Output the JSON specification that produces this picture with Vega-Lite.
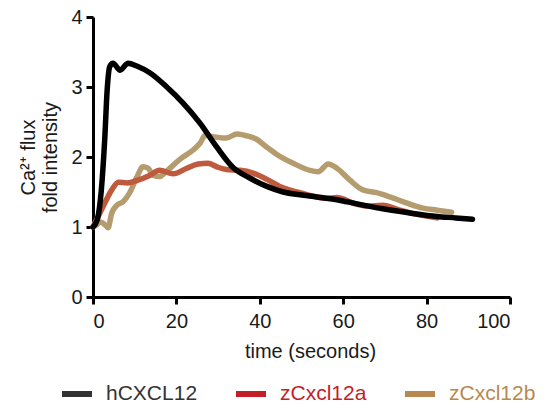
{
  "$schema": "https://vega.github.io/schema/vega-lite/v6.json",
  "width": 417,
  "height": 280,
  "autosize": "none",
  "padding": {"left": 93, "top": 17, "right": 37, "bottom": 114},
  "background": "white",
  "config": {
    "view": {"stroke": null},
    "font": "Liberation Sans",
    "axis": {
      "domainColor": "black",
      "domainWidth": 3,
      "tickColor": "black",
      "tickWidth": 3,
      "tickSize": 7,
      "labelFont": "Liberation Sans",
      "labelFontSize": 20,
      "labelColor": "#1a1a1a",
      "titleFont": "Liberation Sans",
      "titleFontSize": 20,
      "titleFontWeight": "normal",
      "titleColor": "#1a1a1a",
      "grid": false
    }
  },
  "data": {
    "values": [
      {"series": "zCxcl12b", "t": 0, "v": 1.0},
      {"series": "zCxcl12b", "t": 0.8, "v": 1.03},
      {"series": "zCxcl12b", "t": 1.7, "v": 1.07},
      {"series": "zCxcl12b", "t": 2.9, "v": 1.03},
      {"series": "zCxcl12b", "t": 3.6, "v": 0.99},
      {"series": "zCxcl12b", "t": 4.5, "v": 1.2},
      {"series": "zCxcl12b", "t": 5.7, "v": 1.31},
      {"series": "zCxcl12b", "t": 7.2, "v": 1.36},
      {"series": "zCxcl12b", "t": 8.9, "v": 1.5},
      {"series": "zCxcl12b", "t": 10.5, "v": 1.71},
      {"series": "zCxcl12b", "t": 12, "v": 1.86},
      {"series": "zCxcl12b", "t": 13.2, "v": 1.84},
      {"series": "zCxcl12b", "t": 14.4, "v": 1.74},
      {"series": "zCxcl12b", "t": 16, "v": 1.72},
      {"series": "zCxcl12b", "t": 17.7, "v": 1.8},
      {"series": "zCxcl12b", "t": 20.9, "v": 1.97},
      {"series": "zCxcl12b", "t": 24, "v": 2.1},
      {"series": "zCxcl12b", "t": 25.7, "v": 2.2},
      {"series": "zCxcl12b", "t": 26.9, "v": 2.31},
      {"series": "zCxcl12b", "t": 28.8, "v": 2.29},
      {"series": "zCxcl12b", "t": 32, "v": 2.27},
      {"series": "zCxcl12b", "t": 34.5, "v": 2.33},
      {"series": "zCxcl12b", "t": 37.6, "v": 2.29},
      {"series": "zCxcl12b", "t": 39, "v": 2.26},
      {"series": "zCxcl12b", "t": 41.7, "v": 2.14},
      {"series": "zCxcl12b", "t": 44, "v": 2.04},
      {"series": "zCxcl12b", "t": 48, "v": 1.91},
      {"series": "zCxcl12b", "t": 52, "v": 1.81},
      {"series": "zCxcl12b", "t": 54, "v": 1.79},
      {"series": "zCxcl12b", "t": 56.4, "v": 1.9},
      {"series": "zCxcl12b", "t": 58.5, "v": 1.84},
      {"series": "zCxcl12b", "t": 61.6, "v": 1.67},
      {"series": "zCxcl12b", "t": 64.7, "v": 1.53},
      {"series": "zCxcl12b", "t": 68, "v": 1.49},
      {"series": "zCxcl12b", "t": 71.2, "v": 1.43},
      {"series": "zCxcl12b", "t": 75.3, "v": 1.34},
      {"series": "zCxcl12b", "t": 79.1, "v": 1.27},
      {"series": "zCxcl12b", "t": 82.5, "v": 1.24},
      {"series": "zCxcl12b", "t": 86, "v": 1.21},
      {"series": "zCxcl12a", "t": 0, "v": 1.0},
      {"series": "zCxcl12a", "t": 2.4, "v": 1.29},
      {"series": "zCxcl12a", "t": 4.5, "v": 1.53},
      {"series": "zCxcl12a", "t": 6.1, "v": 1.64},
      {"series": "zCxcl12a", "t": 8.2, "v": 1.63},
      {"series": "zCxcl12a", "t": 10.8, "v": 1.67},
      {"series": "zCxcl12a", "t": 13.7, "v": 1.74},
      {"series": "zCxcl12a", "t": 16, "v": 1.81},
      {"series": "zCxcl12a", "t": 19.2, "v": 1.76},
      {"series": "zCxcl12a", "t": 22.5, "v": 1.84},
      {"series": "zCxcl12a", "t": 25.2, "v": 1.9},
      {"series": "zCxcl12a", "t": 27.6, "v": 1.91},
      {"series": "zCxcl12a", "t": 29.7, "v": 1.86},
      {"series": "zCxcl12a", "t": 32, "v": 1.82},
      {"series": "zCxcl12a", "t": 35.3, "v": 1.81},
      {"series": "zCxcl12a", "t": 38.4, "v": 1.77},
      {"series": "zCxcl12a", "t": 41.7, "v": 1.68},
      {"series": "zCxcl12a", "t": 44.8, "v": 1.58},
      {"series": "zCxcl12a", "t": 48.9, "v": 1.5},
      {"series": "zCxcl12a", "t": 52.8, "v": 1.44},
      {"series": "zCxcl12a", "t": 56, "v": 1.41},
      {"series": "zCxcl12a", "t": 58.5, "v": 1.42},
      {"series": "zCxcl12a", "t": 63, "v": 1.33},
      {"series": "zCxcl12a", "t": 66, "v": 1.3},
      {"series": "zCxcl12a", "t": 69.5, "v": 1.31},
      {"series": "zCxcl12a", "t": 73.6, "v": 1.24},
      {"series": "zCxcl12a", "t": 77.7, "v": 1.18},
      {"series": "zCxcl12a", "t": 82.5, "v": 1.13},
      {"series": "hCXCL12", "t": 0, "v": 1.0},
      {"series": "hCXCL12", "t": 1, "v": 1.1},
      {"series": "hCXCL12", "t": 2, "v": 1.53},
      {"series": "hCXCL12", "t": 2.8, "v": 2.24},
      {"series": "hCXCL12", "t": 3.4, "v": 2.96},
      {"series": "hCXCL12", "t": 4, "v": 3.29},
      {"series": "hCXCL12", "t": 4.8, "v": 3.34},
      {"series": "hCXCL12", "t": 6.5, "v": 3.24},
      {"series": "hCXCL12", "t": 8.4, "v": 3.34},
      {"series": "hCXCL12", "t": 10.5, "v": 3.3},
      {"series": "hCXCL12", "t": 13.7, "v": 3.2},
      {"series": "hCXCL12", "t": 17.7, "v": 3.0},
      {"series": "hCXCL12", "t": 21.6, "v": 2.77},
      {"series": "hCXCL12", "t": 25.7, "v": 2.48},
      {"series": "hCXCL12", "t": 29.7, "v": 2.14},
      {"series": "hCXCL12", "t": 33.6, "v": 1.85},
      {"series": "hCXCL12", "t": 37.6, "v": 1.7},
      {"series": "hCXCL12", "t": 41.7, "v": 1.58},
      {"series": "hCXCL12", "t": 45.6, "v": 1.5},
      {"series": "hCXCL12", "t": 49.6, "v": 1.46},
      {"series": "hCXCL12", "t": 53.7, "v": 1.43},
      {"series": "hCXCL12", "t": 58.5, "v": 1.39},
      {"series": "hCXCL12", "t": 63.3, "v": 1.33},
      {"series": "hCXCL12", "t": 69.5, "v": 1.26},
      {"series": "hCXCL12", "t": 76, "v": 1.2},
      {"series": "hCXCL12", "t": 82.5, "v": 1.15},
      {"series": "hCXCL12", "t": 87, "v": 1.13},
      {"series": "hCXCL12", "t": 91, "v": 1.11}
    ]
  },
  "encoding": {
    "x": {
      "field": "t",
      "type": "quantitative",
      "scale": {"domain": [0, 100], "nice": false, "zero": false},
      "axis": {"values": [0, 20, 40, 60, 80, 100], "title": "time (seconds)", "labelPadding": 7, "titlePadding": 10, "titleX": 217}
    },
    "y": {
      "field": "v",
      "type": "quantitative",
      "scale": {"domain": [0, 4], "nice": false},
      "axis": {"values": [0, 1, 2, 3, 4], "title": ["Ca²⁺ flux", "fold intensity"], "labelPadding": 4, "titlePadding": 10, "titleLineHeight": 22}
    }
  },
  "layer": [
    {
      "mark": {"type": "line", "strokeWidth": 0},
      "encoding": {
        "color": {
          "field": "series",
          "type": "nominal",
          "scale": {"domain": ["hCXCL12", "zCxcl12a", "zCxcl12b"], "range": ["#333333", "#c41e28", "#b8884e"]},
          "legend": {
            "title": null,
            "orient": "none",
            "direction": "horizontal",
            "columns": 3,
            "legendX": -34,
            "legendY": 359,
            "columnPadding": 26,
            "symbolType": "stroke",
            "symbolSize": 900,
            "symbolStrokeWidth": 6,
            "symbolOpacity": 1,
            "labelFont": "Liberation Sans",
            "labelFontSize": 21,
            "labelOffset": 11,
            "encode": {
              "labels": {"update": {"fill": {"signal": "datum.value === 'hCXCL12' ? '#333333' : datum.value === 'zCxcl12a' ? '#c41e28' : '#b8884e'"}}}
            }
          }
        }
      }
    },
    {
      "mark": {"type": "line", "strokeWidth": 5.5, "interpolate": "monotone", "strokeCap": "round", "strokeJoin": "round"},
      "encoding": {
        "stroke": {
          "field": "series",
          "type": "nominal",
          "scale": {"domain": ["hCXCL12", "zCxcl12a", "zCxcl12b"], "range": ["#000000", "#c05a3e", "#b59c6e"]},
          "legend": null
        }
      }
    }
  ],
  "resolve": {"legend": {"color": "independent", "stroke": "independent"}}
}
